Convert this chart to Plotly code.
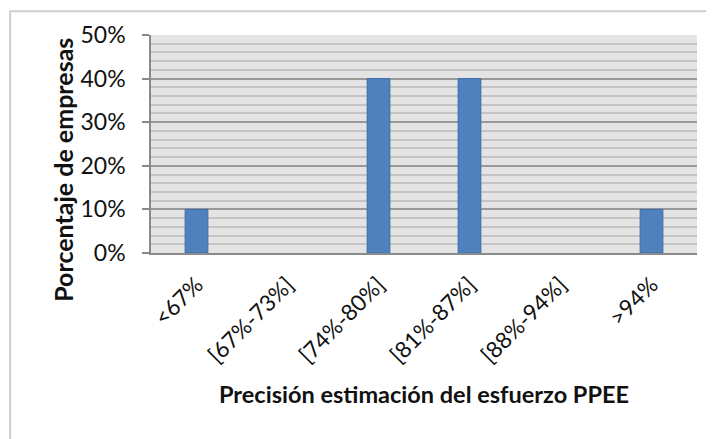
import plotly.graph_objects as go

categories = ["<67%", "[67%-73%]", "[74%-80%]", "[81%-87%]", "[88%-94%]", ">94%"]
values = [0.10, 0.0, 0.40, 0.40, 0.0, 0.10]
y_ticks = [0, 0.1, 0.2, 0.3, 0.4, 0.5]
y_tick_labels = ["0%", "10%", "20%", "30%", "40%", "50%"]
y_title = "Porcentaje de empresas"
x_title = "Precisión estimación del esfuerzo PPEE"

FONT = "Lato, Open Sans, sans-serif"

fig = go.Figure()
fig.add_trace(go.Bar(
    x=categories, y=values, width=0.25,
    marker=dict(color="#4f81bd",
                line=dict(color="#3d6da6", width=[1 if v > 0 else 0 for v in values])),
))

fig.update_layout(
    width=714, height=439,
    margin=dict(l=143, r=25, t=25, b=194),
    paper_bgcolor="white", plot_bgcolor="#e4e4e4",
    showlegend=False,
    font=dict(family=FONT, size=21, color="#111"),
    bargap=0.75,
)
fig.update_yaxes(
    range=[0, 0.5], tickvals=y_ticks, ticktext=y_tick_labels,
    showgrid=True, gridcolor="#9a9a9a", gridwidth=1.5,
    minor=dict(dtick=0.02, showgrid=True, gridcolor="#c4c4c4", gridwidth=1.5),
    ticks="outside", ticklen=7, tickcolor="#8a8a8a", tickwidth=1.5,
    showline=True, linecolor="#8a8a8a", linewidth=1.5,
    zeroline=False, ticklabelstandoff=12,
    tickfont=dict(size=23),
)
fig.update_xaxes(
    tickangle=-45, showgrid=False,
    showline=True, linecolor="#8a8a8a", linewidth=1.5,
    ticks="", ticklabelstandoff=8,
    tickfont=dict(size=22.5),
)
fig.add_annotation(text="<b>" + y_title + "</b>", xref="paper", yref="paper",
                   x=-0.161, y=0.382, textangle=-90, showarrow=False,
                   xanchor="center", yanchor="middle",
                   font=dict(size=25, family=FONT, color="#111"))
fig.add_annotation(text="<b>" + x_title + "</b>", xref="paper", yref="paper",
                   x=0.5, y=-0.645, showarrow=False,
                   xanchor="center", yanchor="middle",
                   font=dict(size=23.5, family=FONT, color="#111"))
fig.add_shape(type="rect", xref="paper", yref="paper",
              x0=-0.258, x1=1.1, y0=1.109, y1=-0.9,
              line=dict(color="#cfcfcf", width=2), layer="below")

fig.write_html("out.html")
